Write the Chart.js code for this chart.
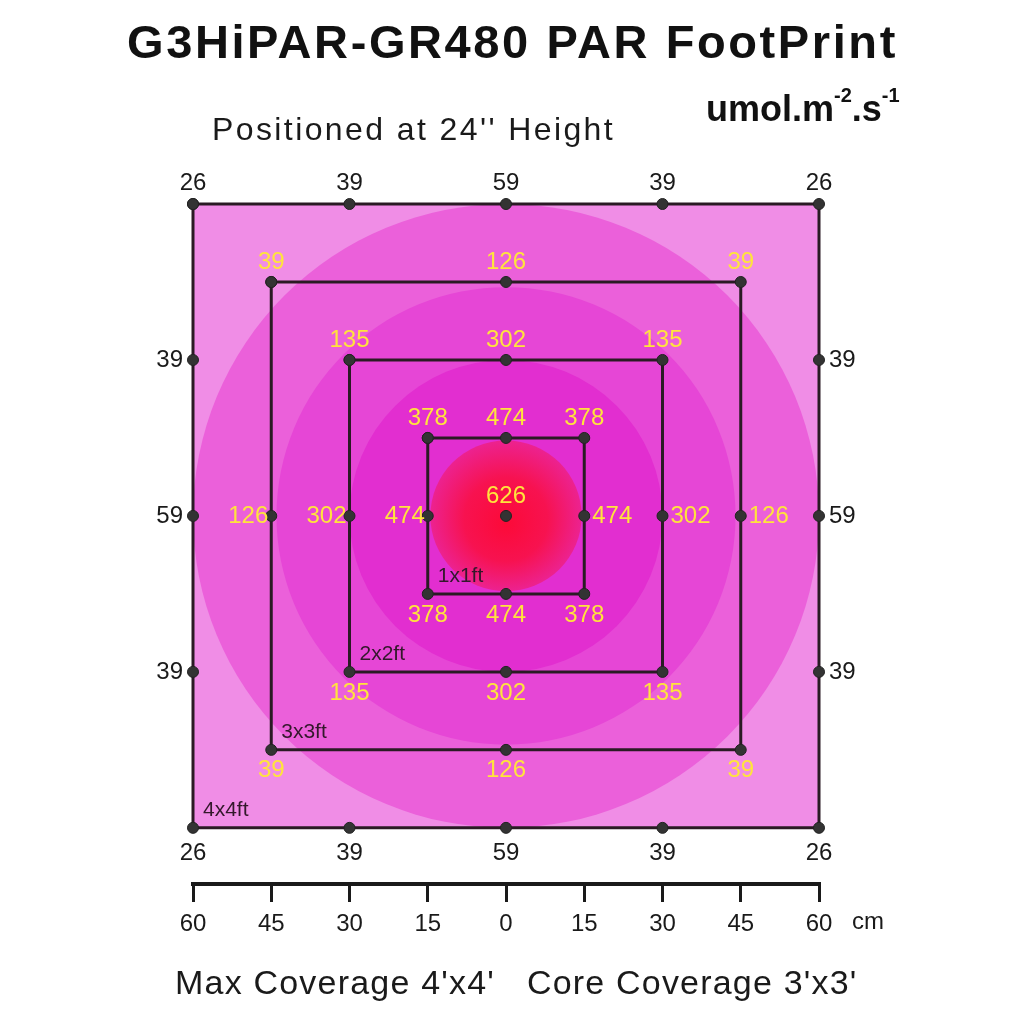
<!DOCTYPE html>
<html>
<head>
<meta charset="utf-8">
<script src="https://cdn.jsdelivr.net/npm/chart.js@4"></script>
<style>
  body { margin: 0; background: #fff; }
  #wrap { width: 1024px; height: 1024px; }
</style>
</head>
<body>
<div id="wrap"><canvas id="myChart" width="1024" height="1024"></canvas></div>
<script>
// values (umol.m-2.s-1), positions in cm
const sideCm = [-60, -30, 0, 30, 60]
const outerTop = [26, 39, 59, 39, 26]
const outerBottom = [26, 39, 59, 39, 26]
const outerLeft = [39, 59, 39]   // y = 30, 0, -30
const outerRight = [39, 59, 39]

const innerHalf = [45, 30, 15]
const innerCorner = [39, 135, 378]
const innerMid = [126, 302, 474]
const squareNames = ['4x4ft', '3x3ft', '2x2ft', '1x1ft']
const centerValue = 626

const xTicks = [-60, -45, -30, -15, 0, 15, 30, 45, 60]

const bandRadius = [60, 44, 30, 14.5]
const bandColors = ['#eb60da', '#e646d6', '#e22ed0']
const cornerColor = '#f08de6'

const font = '"Liberation Sans", Arial, sans-serif'

const outerPoints = () => {
    const pts = []
    sideCm.forEach((x, i) => pts.push({x: x, y: 60, v: outerTop[i], pos: 'top'}))
    ;[30, 0, -30].forEach((y, i) => pts.push({x: 60, y: y, v: outerRight[i], pos: 'right'}))
    sideCm.slice().reverse().forEach((x, i) => pts.push({x: x, y: -60, v: outerBottom[4 - i], pos: 'bottom'}))
    ;[-30, 0, 30].forEach((y, i) => pts.push({x: -60, y: y, v: outerLeft[2 - i], pos: 'left'}))
    pts.push({x: -60, y: 60, v: null})
    return pts
}

const innerPoints = (h, c, m) => [
    {x: -h, y: h, v: c, pos: 'top'},
    {x: 0, y: h, v: m, pos: 'top'},
    {x: h, y: h, v: c, pos: 'top'},
    {x: h, y: 0, v: m, pos: 'right'},
    {x: h, y: -h, v: c, pos: 'bottom'},
    {x: 0, y: -h, v: m, pos: 'bottom'},
    {x: -h, y: -h, v: c, pos: 'bottom'},
    {x: -h, y: 0, v: m, pos: 'left'},
    {x: -h, y: h, v: null}
]

const squareStyle = {
    showLine: true,
    borderColor: '#2a1a24',
    borderWidth: 3,
    pointRadius: 5.5,
    pointBackgroundColor: '#333',
    pointBorderColor: '#222',
    pointBorderWidth: 1,
    clip: false
}

const datasets = [
    {label: squareNames[0], data: outerPoints(), labelColor: '#1a1a1a', ...squareStyle}
]
innerHalf.forEach((h, i) => {
    datasets.push({label: squareNames[i + 1], data: innerPoints(h, innerCorner[i], innerMid[i]), labelColor: '#ffe43c', ...squareStyle})
})
datasets.push({label: 'center', data: [{x: 0, y: 0, v: centerValue, pos: 'top'}], labelColor: '#ffe43c', ...squareStyle, showLine: false})

const bandsPlugin = {
    id: 'bands',
    beforeDatasetsDraw(chart) {
        const {ctx, scales: {x, y}} = chart
        const cx = x.getPixelForValue(0), cy = y.getPixelForValue(0)
        ctx.save()
        ctx.beginPath()
        ctx.rect(x.getPixelForValue(-60), y.getPixelForValue(60), x.getPixelForValue(60) - x.getPixelForValue(-60), y.getPixelForValue(-60) - y.getPixelForValue(60))
        ctx.fillStyle = cornerColor
        ctx.fill()
        ctx.clip()
        bandRadius.forEach((r, i) => {
            const rx = x.getPixelForValue(r) - cx
            const ry = y.getPixelForValue(-r) - cy
            ctx.beginPath()
            ctx.ellipse(cx, cy, rx, ry, 0, 0, Math.PI * 2)
            if (i < bandColors.length) {
                ctx.fillStyle = bandColors[i]
            } else {
                const g = ctx.createRadialGradient(cx, cy + 8, 0, cx, cy, rx)
                g.addColorStop(0, '#fc0a38')
                g.addColorStop(0.55, '#f71250')
                g.addColorStop(1, '#ec2290')
                ctx.fillStyle = g
            }
            ctx.fill()
        })
        ctx.restore()
    }
}

const labelsPlugin = {
    id: 'valueLabels',
    afterDatasetsDraw(chart) {
        const {ctx} = chart
        ctx.save()
        chart.data.datasets.forEach((ds, di) => {
            const meta = chart.getDatasetMeta(di)
            const outer = di === 0
            ctx.font = '24px ' + font
            ctx.fillStyle = ds.labelColor
            ctx.textBaseline = 'middle'
            meta.data.forEach((pt, i) => {
                const d = ds.data[i]
                if (d.v == null) return
                let tx = pt.x, ty = pt.y
                if (d.pos === 'top') { ctx.textAlign = 'center'; ty -= outer ? 21 : 20 }
                if (d.pos === 'bottom') { ctx.textAlign = 'center'; ty += outer ? 26 : 21 }
                if (d.pos === 'left') { ctx.textAlign = 'right'; tx -= outer ? 10 : 3 }
                if (d.pos === 'right') { ctx.textAlign = 'left'; tx += outer ? 10 : 8 }
                ctx.fillText(d.v, tx, ty)
            })
        })
        // square size names, bottom-left corner inside each square
        const {x, y} = chart.scales
        ctx.font = '21px ' + font
        ctx.fillStyle = '#33182b'
        ctx.textAlign = 'left'
        ;[60].concat(innerHalf).forEach((h, i) => {
            ctx.fillText(squareNames[i], x.getPixelForValue(-h) + 10, y.getPixelForValue(-h) - 18)
        })
        ctx.restore()
    },
    afterDraw(chart) {
        const {ctx} = chart
        ctx.save()
        ctx.fillStyle = '#111'
        ctx.textBaseline = 'middle'
        ctx.textAlign = 'left'
        ctx.letterSpacing = '2.6px'
        ctx.font = 'bold 47px ' + font
        ctx.fillText('G3HiPAR-GR480 PAR FootPrint', 127, 45)

        ctx.letterSpacing = '2.4px'
        ctx.font = '32px ' + font
        ctx.fillStyle = '#1a1a1a'
        ctx.fillText("Positioned at 24'' Height", 212, 131)

        // unit with superscripts
        ctx.letterSpacing = '0px'
        ctx.fillStyle = '#111'
        let ux = 706
        const part = (t, size, dy) => {
            ctx.font = 'bold ' + size + 'px ' + font
            ctx.fillText(t, ux, 111 + dy)
            ux += ctx.measureText(t).width
        }
        part('umol.m', 36, 0)
        part('-2', 20, -15)
        part('.s', 36, 0)
        part('-1', 20, -15)

        ctx.fillStyle = '#1a1a1a'
        ctx.font = '24px ' + font
        ctx.fillText('cm', 852, 922)

        ctx.letterSpacing = '1.2px'
        ctx.font = '34px ' + font
        ctx.fillText("Max Coverage 4'x4'   Core Coverage 3'x3'", 175, 985)
        ctx.restore()
    }
}

const ctx = document.getElementById('myChart').getContext('2d')
const chart = new Chart(ctx, {
    type: 'scatter',
    data: {datasets: datasets},
    options: {
        responsive: false,
        animation: false,
        layout: {padding: {left: 193, right: 205, top: 204, bottom: 80}},
        plugins: {legend: {display: false}, tooltip: {enabled: false}},
        scales: {
            x: {
                type: 'linear',
                min: -60,
                max: 60,
                afterBuildTicks: (s) => { s.ticks = xTicks.map(v => ({value: v})) },
                afterFit: (s) => { s.height = 60 },
                grid: {drawOnChartArea: false, drawTicks: true, tickLength: 18, color: '#1a1a1a', lineWidth: 3},
                border: {display: true, color: '#1a1a1a', width: 4},
                ticks: {
                    color: '#1a1a1a',
                    padding: 8,
                    maxRotation: 0,
                    font: {family: font, size: 24},
                    callback: (v) => Math.abs(v)
                }
            },
            y: {
                type: 'linear',
                display: false,
                min: -70.8,
                max: 60
            }
        }
    },
    plugins: [bandsPlugin, labelsPlugin]
})
</script>
</body>
</html>
